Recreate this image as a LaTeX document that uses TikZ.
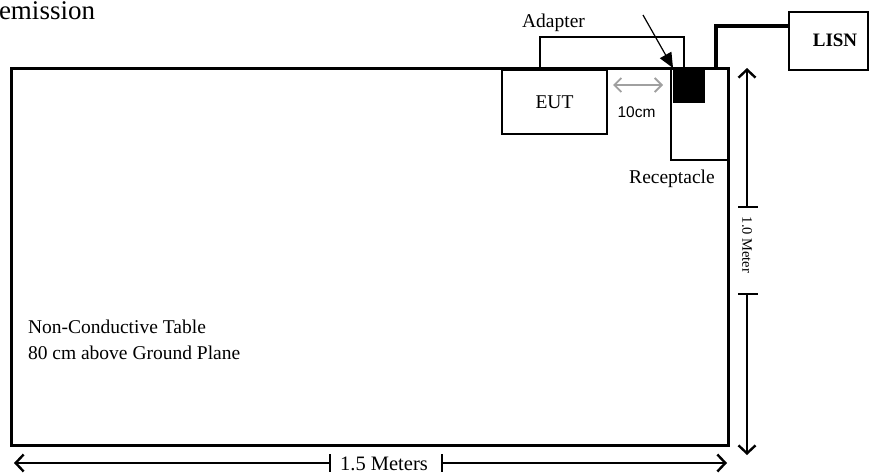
\documentclass[tikz,border=0pt]{standalone}
\usepackage{fontspec}
\setmainfont{Liberation Serif}
\newfontfamily\sansf{Liberation Sans}
\usetikzlibrary{arrows.meta}
\definecolor{dimgray}{HTML}{A0A0A0}
\begin{document}
\begin{tikzpicture}[x=1pt,y=-1pt,
  box/.style={draw, rectangle, inner sep=0pt, outer sep=0pt, line width=1.4pt, anchor=north west},
  lbl/.style={inner sep=0pt, outer sep=0pt, font=\fontsize{19.5}{23}\selectfont},
  barbend/.style={-{Straight Barb[length=8pt,width=17pt,line width=2.4pt]}},
  dimline/.style={line width=1.3pt},
  tick/.style={line width=1.6pt},
  wire/.style={line width=1.4pt},
  mains/.style={line width=3.5pt},
]
\useasboundingbox (0,0) rectangle (869,475);
% text top left
\node[lbl, anchor=base west, font=\fontsize{27}{30}\selectfont] (emis) at (-1,19.5) {emission};
% table
\node[box, line width=3pt, minimum width=717pt, minimum height=377pt] (table) at (11,68) {};
\node[lbl, anchor=base west] (tbl1) at (28,333) {Non-Conductive Table};
\node[lbl, anchor=base west] (tbl2) at (28,359) {80 cm above Ground Plane};
% EUT
\node[box, minimum width=105pt, minimum height=64pt, font=\fontsize{19.5}{23}\selectfont] (eut) at (502,70) {EUT};
% receptacle
\node[box, line width=2pt, minimum width=57pt, minimum height=92pt] (rec) at (671,68) {};
\node[lbl, anchor=base] (reclbl) at (672,183) {Receptacle};
% adapter plug
\node[box, fill=black, draw=none, minimum width=32pt, minimum height=35pt] (plug) at (673,68) {};
% LISN
\node[box, minimum width=79pt, minimum height=58pt] (lisn) at (789,12) {};
\node[lbl, font=\bfseries\fontsize{19}{22}\selectfont] (lisnlbl) at (835,40) {LISN};
% adapter cable
\node[lbl, anchor=base] (adlbl) at (553.5,27) {Adapter};
\draw[wire] ([xshift=-14.5pt,yshift=2pt]eut.north) |- ([xshift=-5pt,yshift=31pt]plug.north) -- ([xshift=-5pt]plug.north);
% mains cable to LISN
\draw[mains] ([xshift=16.5pt]rec.north) |- ([yshift=15pt]lisn.west);
% pointer arrow
\coordinate (ptr) at (643,15);
\draw[line width=1.2pt, -{Triangle[length=15pt,width=13pt]}] (ptr) -- (plug.north west);
% 10 cm spacing
\coordinate (g1) at (613,85);
\coordinate (g2) at (663,85);
\draw[dimgray, line width=1.5pt, {Straight Barb[length=7pt,width=14pt,line width=1.8pt]}-{Straight Barb[length=7pt,width=14pt,line width=1.8pt]}] (g1) -- (g2);
\node[inner sep=0pt, font=\sansf\fontsize{15.5}{18}\selectfont, anchor=base] (tencm) at (636.5,117) {10cm};
% vertical dimension
\coordinate (vtop) at (747,68);
\coordinate (vt1) at (747,207);
\coordinate (vt2) at (747,294);
\coordinate (vbot) at (747,455);
\draw[dimline, barbend] (vt1) -- (vtop);
\draw[dimline, barbend] (vt2) -- (vbot);
\draw[tick] ([xshift=-9pt]vt1) -- ([xshift=11pt]vt1);
\draw[tick] ([xshift=-9pt]vt2) -- ([xshift=11pt]vt2);
\node[inner sep=0pt, rotate=-90, font=\fontsize{14.5}{16}\selectfont] (vlbl) at (747,245) {1.0 Meter};
% horizontal dimension
\coordinate (hl) at (14,463);
\coordinate (h1) at (330,463);
\coordinate (h2) at (442,463);
\coordinate (hr) at (727,463);
\draw[dimline, barbend] (h1) -- (hl);
\draw[dimline, barbend] (h2) -- (hr);
\draw[tick] ([yshift=9pt]h1) -- ([yshift=-9pt]h1);
\draw[tick] ([yshift=9pt]h2) -- ([yshift=-9pt]h2);
\node[inner sep=0pt, anchor=base, font=\fontsize{20.5}{24}\selectfont] (hlbl) at (384,470) {1.5 Meters};
\end{tikzpicture}
\end{document}
